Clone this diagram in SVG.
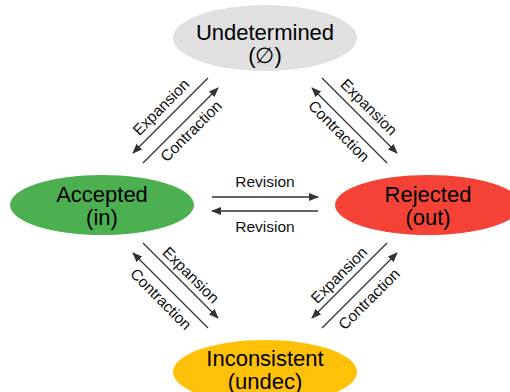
<svg xmlns="http://www.w3.org/2000/svg" width="510" height="392" viewBox="0 0 510 392">
<style>
.node text{font-family:"Liberation Sans",Arial,sans-serif;font-size:22px;fill:#000;text-anchor:middle}
.lbl{font-family:"Liberation Sans",Arial,sans-serif;font-size:15.5px;fill:#111;text-anchor:middle}
.edge{stroke:#333;stroke-width:1.3;fill:none;marker-end:url(#ah)}
</style>
<defs>
<marker id="ah" viewBox="0 0 10 8" refX="9" refY="4" markerWidth="10" markerHeight="8" markerUnits="userSpaceOnUse" orient="auto">
<path d="M0,0 L10,4 L0,8 Z" fill="#333"/>
</marker>
</defs>
<rect width="510" height="392" fill="#fff"/>
<g id="undetermined" class="node">
<ellipse cx="265" cy="38" rx="92" ry="33" fill="#E0E0E0"/>
<text x="265" y="40">Undetermined</text>
<text x="265" y="63">(∅)</text>
</g>
<g id="accepted" class="node">
<ellipse cx="102" cy="205" rx="92" ry="30" fill="#4CAF50"/>
<text x="102" y="202">Accepted</text>
<text x="102" y="225">(in)</text>
</g>
<g id="rejected" class="node">
<ellipse cx="428" cy="205" rx="93" ry="30" fill="#F44336"/>
<text x="428" y="202">Rejected</text>
<text x="428" y="225">(out)</text>
</g>
<g id="inconsistent" class="node">
<ellipse cx="265" cy="372" rx="92" ry="32" fill="#FFC107"/>
<text x="265" y="366">Inconsistent</text>
<text x="265" y="389">(undec)</text>
</g>
<g id="connectors">
<line class="edge" x1="212" y1="197" x2="318" y2="197"/>
<line class="edge" x1="318" y1="211" x2="212" y2="211"/>
<line class="edge" x1="208" y1="78" x2="133" y2="153"/>
<line class="edge" x1="143" y1="163" x2="218" y2="88"/>
<line class="edge" x1="322" y1="78" x2="397" y2="153"/>
<line class="edge" x1="387" y1="163" x2="312" y2="88"/>
<line class="edge" x1="143" y1="243" x2="218" y2="318"/>
<line class="edge" x1="208" y1="328" x2="133" y2="253"/>
<line class="edge" x1="387" y1="243" x2="312" y2="318"/>
<line class="edge" x1="322" y1="328" x2="397" y2="253"/>
<text class="lbl" x="265" y="187">Revision</text>
<text class="lbl" x="265" y="232">Revision</text>
<text class="lbl" transform="translate(161,107) rotate(-45)" dy="0.35em">Expansion</text>
<text class="lbl" transform="translate(191,131) rotate(-45)" dy="0.35em">Contraction</text>
<text class="lbl" transform="translate(369,107) rotate(45)" dy="0.35em">Expansion</text>
<text class="lbl" transform="translate(339,131) rotate(45)" dy="0.35em">Contraction</text>
<text class="lbl" transform="translate(191,275) rotate(45)" dy="0.35em">Expansion</text>
<text class="lbl" transform="translate(161,299) rotate(45)" dy="0.35em">Contraction</text>
<text class="lbl" transform="translate(339,275) rotate(-45)" dy="0.35em">Expansion</text>
<text class="lbl" transform="translate(369,299) rotate(-45)" dy="0.35em">Contraction</text>
</g>
</svg>
